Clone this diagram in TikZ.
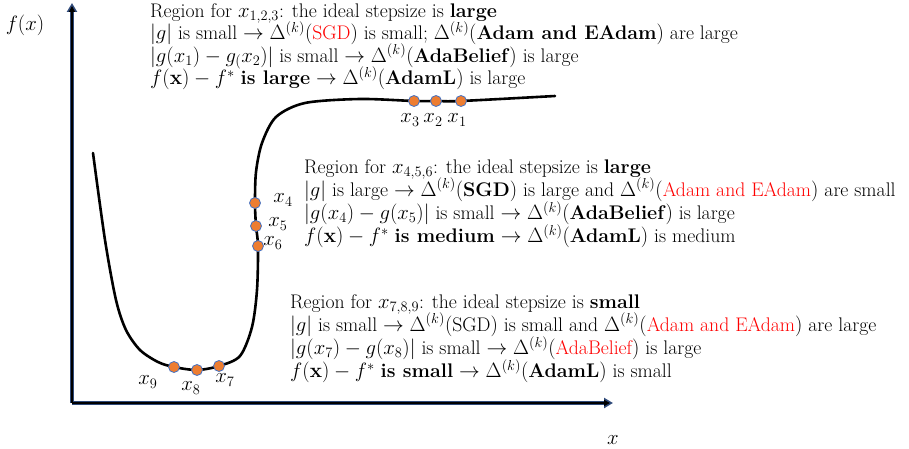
\documentclass[tikz,border=0pt]{standalone}
\usepackage{amsmath}
\usepackage{amssymb}
\usepackage{xcolor}
\usetikzlibrary{arrows.meta,positioning,calc}
\definecolor{ptfill}{HTML}{ED7D31}
\definecolor{ptedge}{HTML}{4472C4}
\definecolor{axblue}{HTML}{2F4A7A}
\newcommand{\dk}{\Delta^{(k)}}
\newcommand{\regfont}[1]{\fontsize{19.7}{#1}\selectfont\setlength{\lineskiplimit}{-20pt}}
\tikzset{
  dot/.style={circle, fill=ptfill, draw=ptedge, line width=0.8pt, inner sep=0pt, minimum size=11pt},
  regtxt/.style={align=left, anchor=north west, inner sep=0pt, font=\regfont{23.3}},
  regtop/.style={regtxt, font=\regfont{22.5}},
  xlab/.style={font=\fontsize{19.2}{22}\selectfont, inner sep=1pt},
  axout/.style={-{Triangle[length=9pt,width=10pt]}, line width=3.6pt, draw=axblue},
  axin/.style={-{Triangle[length=6pt,width=6pt]}, line width=1.6pt, draw=black},
}
\begin{document}
\begin{tikzpicture}[x=1pt, y=-1pt]
  \useasboundingbox (0,0) rectangle (909,449);
  % axes
  \coordinate (o) at (72,403);
  \coordinate (ytop) at (72,3);
  \coordinate (xend) at (613,403);
  \draw[axout] (o) -- (ytop); \draw[axout] (o) -- (xend);
  \draw[axin] (o) -- ($(ytop)+(0,3)$); \draw[axin] (o) -- ($(xend)+(-3,0)$);
  \node[xlab] (fx) at (25,25) {$f(x)$};
  \node[xlab] (xx) at (613,440) {$x$};
  % the curve
  \draw[line width=2.6pt, line cap=round] plot[smooth, tension=0.5] coordinates {
    (93,153) (105,240) (116,300) (126,330) (140,350) (158,362) (174,367) (197,370) (219,366)
    (240,356) (252,327) (257,290) (258,246) (256,226) (255,203) (256,172) (262,143)
    (276,117) (305,103) (360,99) (414,101) (436,101) (461,101) (555,96)};
  % points
  \node[dot] (p1) at (461,101) {};
  \node[dot] (p2) at (436,101) {};
  \node[dot] (p3) at (414,101) {};
  \node[dot] (p4) at (255,203) {};
  \node[dot] (p5) at (256,226) {};
  \node[dot] (p6) at (258,246) {};
  \node[dot] (p7) at (219,366) {};
  \node[dot] (p8) at (197,370) {};
  \node[dot] (p9) at (174,367) {};
  \node[xlab] (l1) at ($(p1)+(-4,19)$) {$x_1$};
  \node[xlab] (l2) at ($(p2)+(-3,19)$) {$x_2$};
  \node[xlab] (l3) at ($(p3)+(-4,19)$) {$x_3$};
  \node[xlab] (l4) at ($(p4)+(28,-3)$) {$x_4$};
  \node[xlab] (l5) at ($(p5)+(22,-2)$) {$x_5$};
  \node[xlab] (l6) at ($(p6)+(15,-3)$) {$x_6$};
  \node[xlab] (l7) at ($(p7)+(6,14)$) {$x_7$};
  \node[xlab] (l8) at ($(p8)+(-6,18)$) {$x_8$};
  \node[xlab] (l9) at ($(p9)+(-26,15)$) {$x_9$};
  % regions
  \node[regtop] (r123) at (150,3) {Region for $x_{1,2,3}$: the ideal stepsize is \textbf{large}\\
    $|g|$ is small $\rightarrow \dk($\textcolor{red}{SGD}$)$ is small; $\dk($\textbf{Adam and EAdam}$)$ are large\\
    $|g(x_1)-g_(x_2)|$ is small $\rightarrow \dk($\textbf{AdaBelief}$)$ is large\\
    $f(\mathbf{x})-f^*$ \textbf{is large} $\rightarrow \dk($\textbf{AdamL}$)$ is large};
  \node[regtxt] (r456) at (304,159) {Region for $x_{4,5,6}$: the ideal stepsize is \textbf{large}\\
    $|g|$ is large $\rightarrow \dk($\textbf{SGD}$)$ is large and $\dk($\textcolor{red}{Adam and EAdam}$)$ are small\\
    $|g(x_4)-g(x_5)|$ is small $\rightarrow \dk($\textbf{AdaBelief}$)$ is large\\
    $f(\mathbf{x})-f^*$ \textbf{is medium} $\rightarrow \dk($\textbf{AdamL}$)$ is medium};
  \node[regtxt] (r789) at (290,294) {Region for $x_{7,8,9}$: the ideal stepsize is \textbf{small}\\
    $|g|$ is small $\rightarrow \dk($SGD$)$ is small and $\dk($\textcolor{red}{Adam and EAdam}$)$ are large\\
    $|g(x_7)-g(x_8)|$ is small $\rightarrow \dk($\textcolor{red}{AdaBelief}$)$ is large\\
    $f(\mathbf{x})-f^*$ \textbf{is small} $\rightarrow \dk($\textbf{AdamL}$)$ is small};
\end{tikzpicture}
\end{document}
